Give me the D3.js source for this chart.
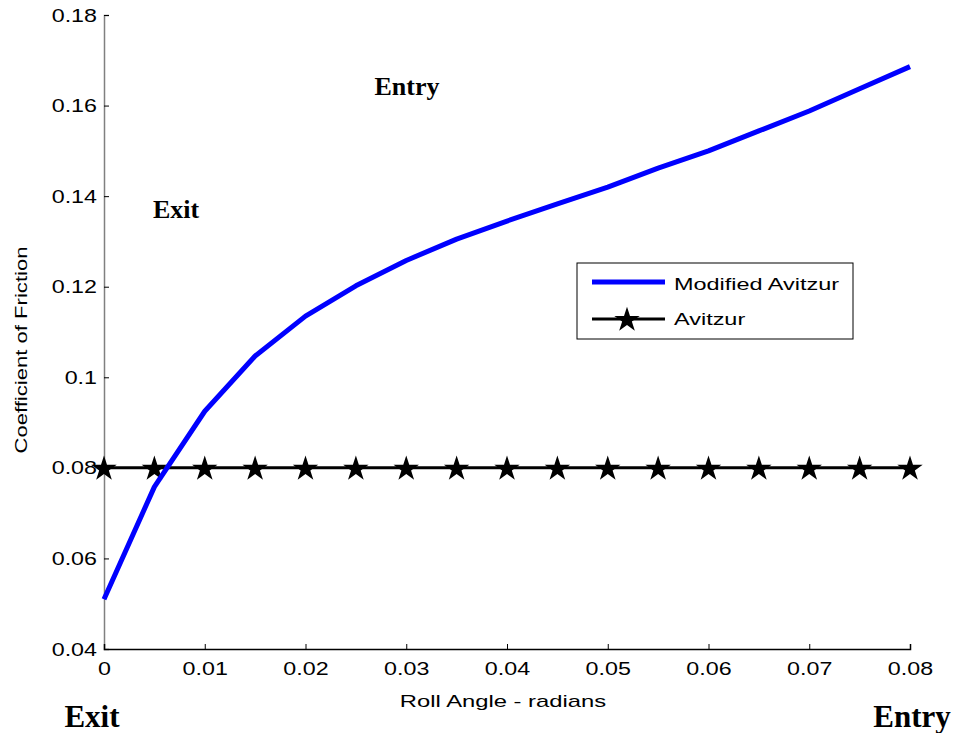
<!DOCTYPE html>
<html>
<head>
<meta charset="utf-8">
<script src="https://cdn.jsdelivr.net/npm/d3@7"></script>
<style>
  body { margin: 0; background: #fff; }
  svg { font-family: Arial, "Liberation Sans", sans-serif; }
</style>
</head>
<body>
<div id="chart"></div>
<script>
// roll angle (radians)
var rollAngle = [0, 0.005, 0.01, 0.015, 0.02, 0.025, 0.03, 0.035, 0.04, 0.045, 0.05, 0.055, 0.06, 0.065, 0.07, 0.075, 0.08];
// friction coefficients
var modifiedAvitzur = [0.0510, 0.0758, 0.0925, 0.1047, 0.1135, 0.1202, 0.1258, 0.1305, 0.1345, 0.1383, 0.1420, 0.1462, 0.1500, 0.1544, 0.1588, 0.1637, 0.1686];
var avitzur = [0.08, 0.08, 0.08, 0.08, 0.08, 0.08, 0.08, 0.08, 0.08, 0.08, 0.08, 0.08, 0.08, 0.08, 0.08, 0.08, 0.08];
var xTicks = [0, 0.01, 0.02, 0.03, 0.04, 0.05, 0.06, 0.07, 0.08];
var yTicks = [0.04, 0.06, 0.08, 0.1, 0.12, 0.14, 0.16, 0.18];
var seriesNames = ["Modified Avitzur", "Avitzur"];

var width = 957, height = 733;
var margin = { top: 15, right: 47, bottom: 84, left: 104 };
var stretch = 1.33; // the original's sans text is wider than it is tall

var svg = d3.select("#chart").append("svg")
  .attr("width", width)
  .attr("height", height);

var x = d3.scaleLinear().domain([0, 0.08]).range([margin.left, width - margin.right]);
var y = d3.scaleLinear().domain([0.04, 0.18]).range([height - margin.bottom, margin.top]);

// y axis (grey line, inward ticks)
var yAxis = svg.append("g")
  .attr("transform", "translate(" + margin.left + ",0)")
  .call(d3.axisRight(y).tickValues(yTicks).tickSize(5).tickFormat(d3.format("")));
yAxis.select(".domain").attr("stroke", "#808080").attr("stroke-width", 1.5);
yAxis.selectAll(".tick line").attr("stroke", "#000");
yAxis.selectAll(".tick text")
  .attr("x", 0)
  .attr("dy", "0.35em")
  .attr("transform", "translate(-7,0) scale(" + stretch + ",1)")
  .attr("text-anchor", "end")
  .attr("font-size", 17.5)
  .attr("fill", "#000");

// x axis (black line, inward ticks)
var xAxis = svg.append("g")
  .attr("transform", "translate(0," + (height - margin.bottom) + ")")
  .call(d3.axisTop(x).tickValues(xTicks).tickSize(5).tickFormat(d3.format("")));
xAxis.select(".domain").attr("stroke", "#000").attr("stroke-width", 1.5);
xAxis.selectAll(".tick line").attr("stroke", "#000");
xAxis.selectAll(".tick text")
  .attr("y", 0)
  .attr("dy", 0)
  .attr("transform", "translate(0,26) scale(" + stretch + ",1)")
  .attr("font-size", 17.5)
  .attr("fill", "#000");

// axis titles
svg.append("text")
  .attr("transform", "translate(503,707) scale(1.4,1)")
  .attr("text-anchor", "middle")
  .attr("font-size", 17)
  .text("Roll Angle - radians");

svg.append("text")
  .attr("transform", "translate(27,350) rotate(-90) scale(1.3,1)")
  .attr("text-anchor", "middle")
  .attr("font-size", 17)
  .text("Coefficient of Friction");

var line = d3.line()
  .x(function(d, i) { return x(rollAngle[i]); })
  .y(function(d) { return y(d); });

// Avitzur: black line with stars
svg.append("path")
  .datum(avitzur)
  .attr("fill", "none")
  .attr("stroke", "#000")
  .attr("stroke-width", 3)
  .attr("d", line);

var star = d3.symbol().type(d3.symbolStar).size(200);
svg.selectAll(".star")
  .data(avitzur)
  .enter().append("path")
  .attr("class", "star")
  .attr("d", star)
  .attr("fill", "#000")
  .attr("transform", function(d, i) { return "translate(" + x(rollAngle[i]) + "," + (y(d) + 1) + ")"; });

// Modified Avitzur: thick blue line
svg.append("path")
  .datum(modifiedAvitzur)
  .attr("fill", "none")
  .attr("stroke", "#0000ff")
  .attr("stroke-width", 5)
  .attr("stroke-linejoin", "round")
  .attr("d", line);

// legend
var legend = svg.append("g").attr("transform", "translate(577,263)");
legend.append("rect")
  .attr("width", 276)
  .attr("height", 76)
  .attr("fill", "#fff")
  .attr("stroke", "#000")
  .attr("stroke-width", 1);

legend.append("line")
  .attr("x1", 15).attr("x2", 88).attr("y1", 19).attr("y2", 19)
  .attr("stroke", "#0000ff").attr("stroke-width", 5);
legend.append("line")
  .attr("x1", 15).attr("x2", 88).attr("y1", 56).attr("y2", 56)
  .attr("stroke", "#000").attr("stroke-width", 3);
legend.append("path")
  .attr("d", star)
  .attr("transform", "translate(50,57)")
  .attr("fill", "#000");

legend.selectAll(".legtext")
  .data(seriesNames)
  .enter().append("text")
  .attr("transform", function(d, i) { return "translate(97," + (27 + i * 35) + ") scale(1.38,1)"; })
  .attr("font-size", 17)
  .text(function(d) { return d; });

// Entry / Exit annotations
var notes = [
  { t: "Entry", x: 407, y: 95, s: 26 },
  { t: "Exit", x: 176, y: 218, s: 26 },
  { t: "Exit", x: 92, y: 727, s: 31 },
  { t: "Entry", x: 912, y: 727, s: 31 }
];
svg.selectAll(".note")
  .data(notes)
  .enter().append("text")
  .attr("class", "note")
  .attr("x", function(d) { return d.x; })
  .attr("y", function(d) { return d.y; })
  .attr("text-anchor", "middle")
  .attr("font-family", "'Liberation Serif', 'Times New Roman', serif")
  .attr("font-weight", "bold")
  .attr("font-size", function(d) { return d.s; })
  .text(function(d) { return d.t; });
</script>
</body>
</html>
